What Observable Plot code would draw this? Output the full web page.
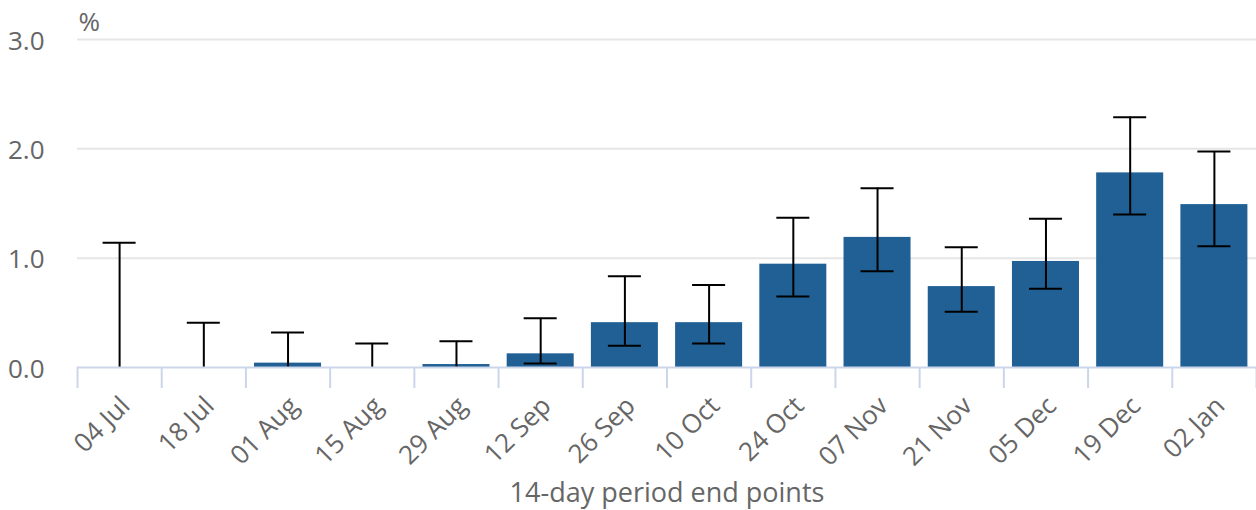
<!DOCTYPE html>
<html><head><meta charset="utf-8">
<script src="https://cdn.jsdelivr.net/npm/d3@7"></script>
<script src="https://cdn.jsdelivr.net/npm/@observablehq/plot@0.6"></script>
<style>body{margin:0;background:#fff;}</style>
</head><body><div id="chart"></div>
<script>
const periods = ["04 Jul","18 Jul","01 Aug","15 Aug","29 Aug","12 Sep","26 Sep","10 Oct","24 Oct","07 Nov","21 Nov","05 Dec","19 Dec","02 Jan"];
const estimates = [0, 0, 0.04, 0, 0.027, 0.125, 0.41, 0.41, 0.945, 1.19, 0.74, 0.97, 1.78, 1.49];
const lowerCI = [0, 0, 0, 0, 0, 0.037, 0.20, 0.22, 0.65, 0.88, 0.51, 0.72, 1.40, 1.11];
const upperCI = [1.14, 0.41, 0.32, 0.22, 0.24, 0.45, 0.835, 0.755, 1.37, 1.64, 1.10, 1.36, 2.29, 1.975];
const yTicks = [0, 1, 2, 3];
const yUnit = "%";
const xTitle = "14-day period end points";

const rows = periods.map((p, i) => ({i, p, v: estimates[i], lo: lowerCI[i], hi: upperCI[i]}));

const chart = Plot.plot({
  width: 1256, height: 510,
  marginLeft: 77, marginRight: 0, marginTop: 39, marginBottom: 143,
  style: {fontFamily: "'Open Sans', sans-serif", fontSize: "26px", background: "#fff"},
  x: {type: "linear", domain: [0, periods.length], label: null},
  y: {domain: [0, 3], label: null},
  marks: [
    Plot.gridY(yTicks.slice(1), {stroke: "#e6e6e6", strokeOpacity: 1, strokeWidth: 2}),
    Plot.rectY(rows, {x1: "i", x2: d => d.i + 1, y: "v", fill: "#206095", insetLeft: 8.6, insetRight: 8.6}),
    Plot.ruleX(rows, {x: d => d.i + 0.5, y1: "lo", y2: "hi", stroke: "#000", strokeWidth: 2}),
    Plot.ruleY(rows, {x1: "i", x2: d => d.i + 1, y: "hi", insetLeft: 25.6, insetRight: 25.6, stroke: "#000", strokeWidth: 2}),
    Plot.ruleY(rows.filter(d => d.lo > 0), {x1: "i", x2: d => d.i + 1, y: "lo", insetLeft: 25.6, insetRight: 25.6, stroke: "#000", strokeWidth: 2}),
    Plot.ruleY([0], {stroke: "#ccd6eb", strokeWidth: 2}),
    Plot.axisX({ticks: d3.range(periods.length + 1), tickSize: 21, tickFormat: () => "", stroke: "#ccd6eb", strokeWidth: 2, strokeOpacity: 1, label: null}),
    Plot.axisX({ticks: rows.map(d => d.i + 0.5), tickFormat: d => periods[Math.floor(d)], tickSize: 0, tickRotate: -45, tickPadding: 34, dx: 6, fill: "#666", label: null}),
    Plot.axisY({ticks: yTicks, tickFormat: d3.format(".1f"), tickSize: 0, tickPadding: 33, dy: 2, fill: "#666", label: null}),
    Plot.text([yUnit], {text: d => d, frameAnchor: "top-left", textAnchor: "start", lineAnchor: "middle", dx: 1, dy: -17, fill: "#666"}),
    Plot.text([xTitle], {text: d => d, frameAnchor: "bottom", dy: 134, fill: "#666", fontSize: 27})
  ]
});
document.getElementById("chart").appendChild(chart);
</script>
</body></html>
